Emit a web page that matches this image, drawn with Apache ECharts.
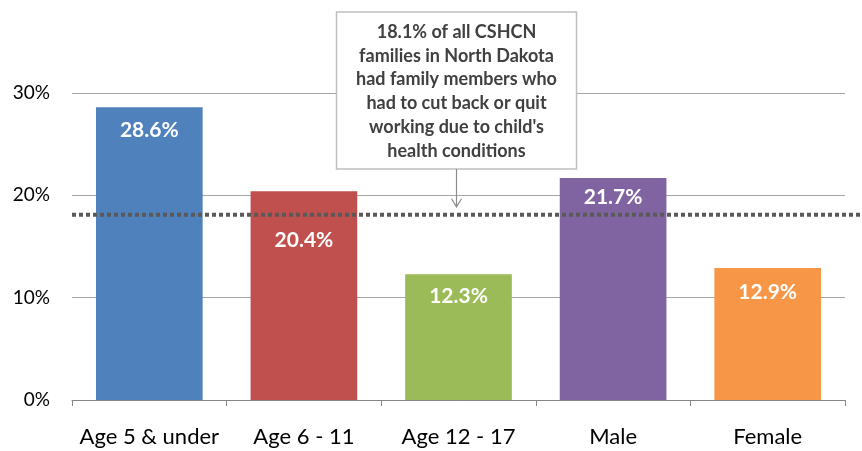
<!DOCTYPE html>
<html>
<head>
<meta charset="utf-8">
<style>
  html, body { margin: 0; padding: 0; background: #ffffff; }
  #chart { width: 862px; height: 451px; }
</style>
<script src="https://cdn.jsdelivr.net/npm/echarts@6/dist/echarts.min.js"></script>
</head>
<body>
<div id="chart"></div>
<script>
// Share of CSHCN families where a family member cut back or quit work
const categories = ['Age 5 & under', 'Age 6 - 11', 'Age 12 - 17', 'Male', 'Female'];
const values = [28.6, 20.4, 12.3, 21.7, 12.9];
const barColors = ['#4F81BD', '#C0504D', '#9BBB59', '#8064A2', '#F79646'];
const yTicks = [0, 10, 20, 30];
const stateAverage = 18.1;
const noteLines = [
  '18.1% of all CSHCN',
  'families in North Dakota',
  'had family members who',
  'had to cut back or quit',
  'working due to child\'s',
  'health conditions'
];

const FONT = 'Lato, "Open Sans", sans-serif';

// label pushed below the dotted reference line where they would overlap
const labelDistance = [12, 38, 12, 9, 14];

const chart = echarts.init(document.getElementById('chart'));

chart.setOption({
  animation: false,
  grid: { left: 72, right: 17, top: 93, bottom: 51 },
  xAxis: {
    type: 'category',
    data: categories,
    axisLine: { lineStyle: { color: '#868686', width: 1 } },
    axisTick: { show: true, length: 6, lineStyle: { color: '#868686' } },
    axisLabel: { color: '#000000', fontSize: 22, fontFamily: FONT, margin: 26, interval: 0 }
  },
  yAxis: {
    type: 'value',
    min: yTicks[0],
    max: yTicks[yTicks.length - 1],
    interval: yTicks[1] - yTicks[0],
    axisLine: { show: false },
    axisTick: { show: false },
    splitLine: { lineStyle: { color: '#a6a6a6', width: 1 } },
    axisLabel: {
      color: '#000000', fontSize: 19, fontFamily: FONT, margin: 22,
      formatter: v => v + '%'
    }
  },
  series: [{
    type: 'bar',
    barCategoryGap: '31%',
    data: values.map((v, i) => ({
      value: v,
      itemStyle: { color: barColors[i] },
      label: { distance: labelDistance[i] }
    })),
    label: {
      show: true,
      position: 'insideTop',
      color: '#ffffff',
      fontSize: 21,
      fontWeight: 'bold',
      fontFamily: FONT,
      formatter: p => p.value.toFixed(1) + '%'
    }
  }]
});

// Reference line for the statewide figure plus the callout box
function drawOverlay() {
  const yLine = chart.convertToPixel({ yAxisIndex: 0 }, stateAverage);
  const x0 = chart.convertToPixel({ xAxisIndex: 0 }, categories[0]);
  const x4 = chart.convertToPixel({ xAxisIndex: 0 }, categories[4]);
  const step = (x4 - x0) / 4;
  const left = x0 - step / 2;
  const boxCx = x0 + step * 2 - 2;
  const boxW = 240, boxTop = 12, boxH = 157, lineH = 23.8;

  const textEls = noteLines.map((t, i) => ({
    type: 'text',
    style: {
      text: t,
      x: boxCx,
      y: boxTop + 8 + i * lineH + lineH / 2,
      align: 'center',
      verticalAlign: 'middle',
      fill: '#404040',
      font: 'bold 18px ' + FONT
    },
    z: 102
  }));

  chart.setOption({
    graphic: [
      {
        type: 'line',
        shape: { x1: left, y1: yLine, x2: 862, y2: yLine },
        style: { stroke: '#595959', lineWidth: 4, lineDash: [4, 3] },
        z: 100
      },
      {
        type: 'rect',
        shape: { x: boxCx - boxW / 2, y: boxTop, width: boxW, height: boxH },
        style: { fill: '#ffffff', stroke: '#bfbfbf', lineWidth: 1.5 },
        z: 101
      },
      {
        type: 'line',
        shape: { x1: boxCx, y1: boxTop + boxH, x2: boxCx, y2: yLine - 8 },
        style: { stroke: '#8c8c8c', lineWidth: 1.2 },
        z: 101
      },
      {
        type: 'polyline',
        shape: { points: [[boxCx - 5, yLine - 16], [boxCx, yLine - 8], [boxCx + 5, yLine - 16]] },
        style: { stroke: '#8c8c8c', lineWidth: 1.2, fill: null },
        z: 101
      }
    ].concat(textEls)
  });
}

drawOverlay();
</script>
</body>
</html>
